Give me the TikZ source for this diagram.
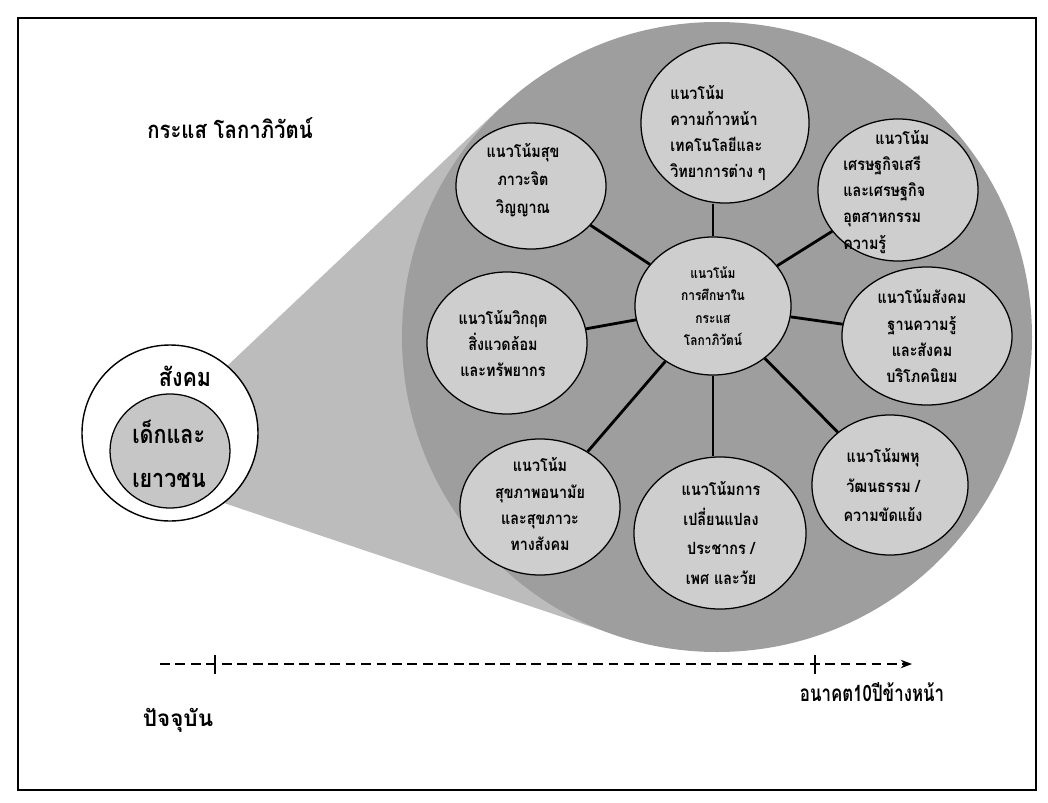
\documentclass[tikz,border=0pt]{standalone}
\usepackage{fontspec}
\newfontfamily\thaifont[Script=Thai]{Loma}
\newfontfamily\thaicond[Script=Thai,FakeStretch=0.85]{Loma}
\newfontfamily\thainarrow[Script=Thai,FakeStretch=0.75]{Loma}
\usetikzlibrary{shapes.geometric,arrows.meta}
\definecolor{conegrey}{RGB}{188,188,188}
\definecolor{blobgrey}{RGB}{158,158,158}
\definecolor{satgrey}{RGB}{206,206,206}
\definecolor{innergrey}{RGB}{198,198,198}
\begin{document}
\begin{tikzpicture}[x=0.025cm,y=-0.025cm,
  sat/.style 2 args={ellipse, draw=black, line width=0.9pt, fill=satgrey, inner sep=0pt,
    minimum width=#1*0.05cm, minimum height=#2*0.05cm},
  sattext/.style={font=\thaicond\bfseries\fontsize{12}{18.5}\selectfont, align=center, inner sep=0pt},
  spoke/.style={line width=2pt},
  timeline/.style={line width=1.2pt, dash pattern=on 7pt off 4pt, -{Stealth[length=8pt,width=6pt]}},
  tick/.style={line width=1pt}]
\useasboundingbox (0,0) rectangle (1048,803);
\fill[white] (0,0) rectangle (1048,803);
% cone and blob
\fill[conegrey] (225,368) -- (500,108) -- (717,337) -- (607,632) -- (215,500) -- cycle;
\fill[blobgrey] (717,337) circle [radius=315];
% society circles
\node[circle, draw=black, line width=1pt, fill=white, minimum size=176*0.025cm, inner sep=0pt] (soc) at (170,433) {};
\node[ellipse, draw=black, line width=0.9pt, fill=innergrey, minimum width=120*0.025cm, minimum height=114*0.025cm, inner sep=0pt] (youth) at (170,451) {};
\node[font=\thaicond\bfseries\fontsize{18}{24}\selectfont, inner sep=0pt] (soct) at (185,376) {สังคม};
\node[font=\thaicond\bfseries\fontsize{18}{31}\selectfont, align=left, inner sep=0pt, anchor=west] (youtht) at (132,454) {เด็กและ\\เยาวชน};
% title
\node[font=\thaicond\bfseries\fontsize{17}{22}\selectfont, inner sep=0pt] (title) at (230,128) {กระแส โลกาภิวัตน์};
% satellites
\node[sat={78}{69}] (c) at (713,306) {};
\node[sat={84}{80}] (s1) at (725,123) {};
\node[sat={75}{63}] (s2) at (531,186) {};
\node[sat={80}{71}] (s3) at (898,190) {};
\node[sat={80}{71}] (s5) at (507,343) {};
\node[sat={85}{69}] (s6) at (927,336) {};
\node[sat={80}{68}] (s7) at (540,507) {};
\node[sat={86}{76}] (s8) at (720,533) {};
\node[sat={78}{70}] (s9) at (890,485) {};
\draw[spoke] (c.north) -- (c.north |- s1.south);
\draw[spoke] (c.south) -- (c.south |- s8.north);
\foreach \s in {s2,s3,s5,s6,s7,s9} \draw[spoke] (c) -- (\s);
% satellite texts
\node[sattext, font=\thaicond\bfseries\fontsize{10}{16}\selectfont] (ct) at (713,306) {แนวโน้ม\\การศึกษาใน\\กระแส\\โลกาภิวัตน์};
\node[sattext, align=left, anchor=west] (t1) at (670,133) {แนวโน้ม\\ความก้าวหน้า\\เทคโนโลยีและ\\วิทยาการต่าง ๆ};
\node[sattext, font=\thaicond\bfseries\fontsize{12}{20}\selectfont] (t2) at (523,180) {แนวโน้มสุข\\ภาวะจิต\\วิญญาณ};
\node[sattext, align=left, anchor=west] (t3) at (843,192) {\hspace*{1.9em}แนวโน้ม\\เศรษฐกิจเสรี\\และเศรษฐกิจ\\อุตสาหกรรม\\ความรู้};
\node[sattext] (t5) at (503,343) {แนวโน้มวิกฤต\\สิ่งแวดล้อม\\และทรัพยากร};
\node[sattext] (t6) at (922,336) {แนวโน้มสังคม\\ฐานความรู้\\และสังคม\\บริโภคนิยม};
\node[sattext] (t7) at (540,504) {แนวโน้ม\\สุขภาพอนามัย\\และสุขภาวะ\\ทางสังคม};
\node[sattext, font=\thaicond\bfseries\fontsize{12}{21}\selectfont] (t8) at (721,533) {แนวโน้มการ\\เปลี่ยนแปลง\\ประชากร /\\เพศ และวัย};
\node[sattext, font=\thaicond\bfseries\fontsize{12}{21}\selectfont] (t9) at (883,485) {แนวโน้มพหุ\\วัฒนธรรม /\\ความขัดแย้ง};
% timeline
\coordinate (tl0) at (160,664);
\coordinate (tl1) at (912,664);
\draw[timeline] (tl0) -- (tl1);
\draw[tick] (215,655) -- (215,674);
\draw[tick] (815,655) -- (815,674);
\node[font=\thaifont\bfseries\fontsize{16}{22}\selectfont, inner sep=0pt] (now) at (178,720) {ปัจจุบัน};
\node[font=\thainarrow\bfseries\fontsize{16}{22}\selectfont, inner sep=0pt] (future) at (872,692) {อนาคต10ปีข้างหน้า};
% frame
\draw[line width=1pt] (18,18) rectangle (1036,790);
\end{tikzpicture}
\end{document}
